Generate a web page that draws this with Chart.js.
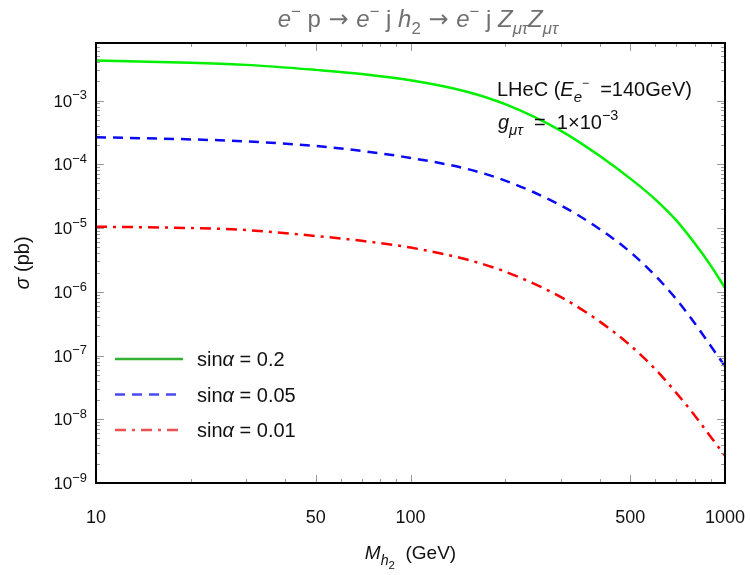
<!DOCTYPE html>
<html>
<head>
<meta charset="utf-8">
<script src="https://cdn.jsdelivr.net/npm/chart.js@4.4.1/dist/chart.umd.min.js"></script>
<style>
  html, body { margin: 0; padding: 0; background: #fff; }
  #wrap { width: 750px; height: 575px; }
</style>
</head>
<body>
<div id="wrap"><canvas id="chart" width="750" height="575"></canvas></div>
<script>
// masses (GeV) and cross sections (pb)
const massValues = [10, 20, 30, 50, 70, 100, 150, 200, 300, 400, 500, 600, 700, 800, 900, 1000];
const sigmaSin02 = [4.25e-3, 3.91e-3, 3.63e-3, 3.03e-3, 2.62e-3, 2.08e-3, 1.39e-3, 8.77e-4, 3.38e-4, 1.35e-4, 5.96e-5, 2.82e-5, 1.32e-5, 5.82e-6, 2.60e-6, 1.15e-6];
const sigmaSin005 = [2.66e-4, 2.46e-4, 2.29e-4, 1.94e-4, 1.62e-4, 1.26e-4, 8.55e-5, 5.55e-5, 2.28e-5, 9.6e-6, 4.19e-6, 1.79e-6, 7.66e-7, 3.24e-7, 1.42e-7, 6.81e-8];
const sigmaSin001 = [1.05e-5, 1.0e-5, 9.3e-6, 7.5e-6, 6.3e-6, 4.94e-6, 3.23e-6, 2.07e-6, 8.3e-7, 3.4e-7, 1.44e-7, 6.12e-8, 2.59e-8, 1.16e-8, 5.33e-9, 2.67e-9];
const seriesLabels = ['sinα = 0.2', 'sinα = 0.05', 'sinα = 0.01'];
const xTickValues = [10, 50, 100, 500, 1000];
const yTickExponents = [-9, -8, -7, -6, -5, -4, -3];

const FONT = '"Liberation Sans", Arial, sans-serif';
const ARROW_FONT = '"DejaVu Sans", sans-serif';

function toPoints(ys) {
    return massValues.map((m, i) => ({ x: m, y: ys[i] }));
}

// draw text made of pieces: [text, italic, sizeScale, dyScale, family]
function drawRich(ctx, segs, x, y, size, color, align) {
    const parts = segs.map(s => {
        const sz = size * (s[2] || 1);
        const font = (s[1] ? 'italic ' : '') + sz + 'px ' + (s[4] || FONT);
        ctx.font = font;
        return { text: s[0], font: font, w: ctx.measureText(s[0]).width, dy: (s[3] || 0) * size };
    });
    const total = parts.reduce((a, p) => a + p.w, 0);
    let cx = x;
    if (align === 'center') cx = x - total / 2;
    if (align === 'right') cx = x - total;
    ctx.fillStyle = color;
    ctx.textAlign = 'left';
    ctx.textBaseline = 'alphabetic';
    parts.forEach(p => {
        ctx.font = p.font;
        ctx.fillText(p.text, cx, y + p.dy);
        cx += p.w;
    });
}

const legendColors = ['#33b033', '#4a4af0', '#ee5050'];

const decorPlugin = {
    id: 'decor',
    afterDraw(chart) {
        const ctx = chart.ctx;
        const area = chart.chartArea;
        const xs = chart.scales.x;
        const ys = chart.scales.y;
        ctx.save();

        // tick marks on all four sides
        ctx.strokeStyle = '#999';
        ctx.lineWidth = 1;
        ctx.beginPath();
        for (let e = -9; e <= -3; e++) {
            for (let k = 1; k <= 9; k++) {
                const v = k * Math.pow(10, e);
                if (v > ys.max) break;
                const py = Math.round(ys.getPixelForValue(v)) + 0.5;
                const len = k === 1 ? 8 : 4;
                ctx.moveTo(area.left, py); ctx.lineTo(area.left + len, py);
                ctx.moveTo(area.right, py); ctx.lineTo(area.right - len, py);
            }
        }
        for (let e = 1; e <= 3; e++) {
            for (let k = 1; k <= 9; k++) {
                const v = k * Math.pow(10, e);
                if (v > 1000) break;
                const px = Math.round(xs.getPixelForValue(v)) + 0.5;
                const len = xTickValues.includes(v) ? 8 : 4;
                ctx.moveTo(px, area.bottom); ctx.lineTo(px, area.bottom - len);
                ctx.moveTo(px, area.top); ctx.lineTo(px, area.top + len);
            }
        }
        ctx.stroke();

        // frame
        ctx.strokeStyle = '#000';
        ctx.lineWidth = 2;
        ctx.strokeRect(area.left, area.top, area.right - area.left, area.bottom - area.top);

        // y tick labels
        yTickExponents.forEach(e => {
            const py = ys.getPixelForValue(Math.pow(10, e));
            drawRich(ctx, [['10', 0], ['−' + Math.abs(e), 0, 0.76, -0.42]], 87, py + 6, 17, '#111', 'right');
        });

        // x tick labels
        xTickValues.forEach(v => {
            drawRich(ctx, [[String(v), 0]], xs.getPixelForValue(v), 523, 18, '#111', 'center');
        });

        // title
        const sup = ['−', 0, 0.7, -0.42];
        const arrow = [' → ', 0, 1, 0, ARROW_FONT];
        drawRich(ctx, [['e', 1], sup, [' p', 0], arrow, ['e', 1], sup, [' j ', 0], ['h', 1], ['2', 0, 0.7, 0.28],
            arrow, ['e', 1], sup, [' j ', 0], ['Z', 1], ['μτ', 1, 0.7, 0.28], ['Z', 1], ['μτ', 1, 0.7, 0.28]],
            418, 27, 24, '#707070', 'center');

        // axis titles
        drawRich(ctx, [['M', 1], ['h', 1, 0.75, 0.3], ['2', 0, 0.6, 0.55], ['  (GeV)', 0]],
            (area.left + area.right) / 2, 559, 19, '#111', 'center');
        ctx.save();
        ctx.translate(29, (area.top + area.bottom) / 2);
        ctx.rotate(-Math.PI / 2);
        drawRich(ctx, [['σ', 1], [' (pb)', 0]], 0, 0, 20, '#111', 'center');
        ctx.restore();

        // annotations
        drawRich(ctx, [['LHeC (', 0], ['E', 1], ['e', 1, 0.75, 0.3], ['−', 0, 0.6, -0.45], ['  =140GeV)', 0]],
            497, 96, 20, '#111', 'left');
        drawRich(ctx, [['g', 1], ['μτ', 1, 0.75, 0.3], ['  =  1×10', 0], ['−3', 0, 0.72, -0.45]],
            498, 129, 20, '#111', 'left');

        // legend
        chart.data.datasets.forEach((ds, i) => {
            const ry = 359 + i * 35.5;
            ctx.strokeStyle = legendColors[i];
            ctx.lineWidth = 2.5;
            ctx.setLineDash(ds.borderDash || []);
            ctx.beginPath();
            ctx.moveTo(115, ry); ctx.lineTo(183, ry);
            ctx.stroke();
            ctx.setLineDash([]);
            drawRich(ctx, [['sin', 0], ['α', 1], [ds.label.replace('sinα', ''), 0]], 197, ry + 7, 20, '#111', 'left');
        });

        ctx.restore();
    }
};

new Chart(document.getElementById('chart'), {
    type: 'line',
    data: {
        datasets: [
            {
                label: seriesLabels[0],
                data: toPoints(sigmaSin02),
                borderColor: '#00f000',
                borderWidth: 2.5,
                pointRadius: 0,
                cubicInterpolationMode: 'monotone'
            },
            {
                label: seriesLabels[1],
                data: toPoints(sigmaSin005),
                borderColor: '#0a0af5',
                borderWidth: 2.5,
                borderDash: [10, 7],
                pointRadius: 0,
                cubicInterpolationMode: 'monotone'
            },
            {
                label: seriesLabels[2],
                data: toPoints(sigmaSin001),
                borderColor: '#ff0000',
                borderWidth: 2.5,
                borderDash: [11, 6, 3, 6],
                pointRadius: 0,
                cubicInterpolationMode: 'monotone'
            }
        ]
    },
    options: {
        responsive: false,
        animation: false,
        layout: {
            padding: { top: 43, right: 25, left: 0, bottom: 0 }
        },
        plugins: {
            legend: { display: false },
            title: { display: false },
            tooltip: { enabled: false }
        },
        scales: {
            x: {
                type: 'logarithmic',
                min: 10,
                max: 1000,
                afterBuildTicks: s => { s.ticks = xTickValues.map(v => ({ value: v })); },
                afterFit: s => { s.height = 92; },
                ticks: { display: false },
                grid: { display: false },
                border: { display: false }
            },
            y: {
                type: 'logarithmic',
                min: 1e-9,
                max: 8e-3,
                afterBuildTicks: s => { s.ticks = yTickExponents.map(e => ({ value: Math.pow(10, e) })); },
                afterFit: s => { s.width = 96; },
                ticks: { display: false },
                grid: { display: false },
                border: { display: false }
            }
        }
    },
    plugins: [decorPlugin]
});
</script>
</body>
</html>
